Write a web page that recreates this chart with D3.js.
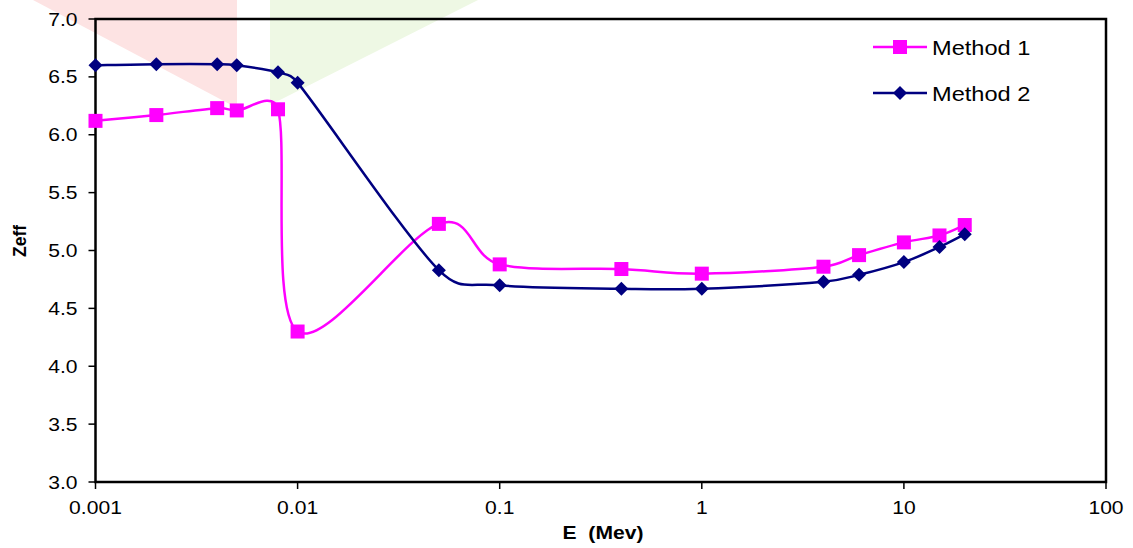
<!DOCTYPE html>
<html>
<head>
<meta charset="utf-8">
<script src="https://cdn.jsdelivr.net/npm/d3@7"></script>
<style>
  html, body { margin: 0; padding: 0; background: #fff; }
  svg { display: block; }
  text { font-family: "Liberation Sans", Arial, sans-serif; fill: #000; }
</style>
</head>
<body>
<svg id="chart" width="1133" height="548"></svg>
<script>
// ---- data ----
const energies = [0.001, 0.002, 0.004, 0.005, 0.008, 0.01, 0.05, 0.1, 0.4, 1, 4, 6, 10, 15, 20];
const method1 = [6.12, 6.17, 6.23, 6.21, 6.22, 4.30, 5.23, 4.88, 4.84, 4.80, 4.86, 4.96, 5.07, 5.13, 5.22];
const method2 = [6.60, 6.61, 6.61, 6.60, 6.54, 6.45, 4.83, 4.70, 4.67, 4.67, 4.73, 4.79, 4.90, 5.03, 5.14];
const xTicks = [0.001, 0.01, 0.1, 1, 10, 100];
const xTickLabels = ["0.001", "0.01", "0.1", "1", "10", "100"];
const yTicks = [3.0, 3.5, 4.0, 4.5, 5.0, 5.5, 6.0, 6.5, 7.0];
const seriesNames = ["Method 1", "Method 2"];

// ---- layout ----
const svg = d3.select("#chart");
const L = 95.5, R = 1106, T = 19, B = 482;
const x = d3.scaleLog().domain([0.001, 100]).range([L, R]);
const y = d3.scaleLinear().domain([3, 7]).range([B, T]);
const SX = 1.14; // horizontal stretch of text in reference

// faint background watermark shapes
svg.append("polygon").attr("points", "33,0 237,0 237,108").attr("fill", "#fde3e3");
svg.append("polygon").attr("points", "270,0 478,0 270,105").attr("fill", "#eef8e4");

// frame
svg.append("rect").attr("x", L).attr("y", T).attr("width", R - L).attr("height", B - T)
  .attr("fill", "none").attr("stroke", "#000").attr("stroke-width", 2.5);

// y ticks
const yg = svg.append("g");
yTicks.forEach(v => {
  yg.append("line").attr("x1", L - 7).attr("x2", L).attr("y1", y(v)).attr("y2", y(v))
    .attr("stroke", "#000").attr("stroke-width", 1.5);
  yg.append("text").attr("transform", `translate(${L - 18},${y(v) + 6.5}) scale(${SX},1)`)
    .attr("text-anchor", "end").attr("font-size", 18.5).text(v.toFixed(1));
});

// x ticks
const xg = svg.append("g");
xTicks.forEach((v, i) => {
  xg.append("line").attr("x1", x(v)).attr("x2", x(v)).attr("y1", B).attr("y2", B + 7)
    .attr("stroke", "#000").attr("stroke-width", 1.5);
  xg.append("text").attr("transform", `translate(${x(v)},${514}) scale(${SX},1)`)
    .attr("text-anchor", "middle").attr("font-size", 18.5).text(xTickLabels[i]);
});

// axis titles
svg.append("text").attr("transform", `translate(${603},${538.5}) scale(${SX},1)`)
  .attr("text-anchor", "middle").attr("font-size", 18.5).attr("font-weight", "bold")
  .attr("xml:space", "preserve").text("E  (Mev)");
svg.append("text").attr("transform", `translate(${26},${241}) rotate(-90)`)
  .attr("text-anchor", "middle").attr("font-size", 17.5).attr("font-weight", "bold").text("Zeff");

// Excel-style smoothed line (Catmull-Rom Bezier with control length clamping)
function smoothPath(pts) {
  const p = d3.path();
  const n = pts.length;
  const dist = (a, b) => Math.hypot(b[0] - a[0], b[1] - a[1]);
  p.moveTo(pts[0][0], pts[0][1]);
  for (let i = 0; i < n - 1; i++) {
    const p0 = pts[Math.max(0, i - 1)], p1 = pts[i], p2 = pts[i + 1], p3 = pts[Math.min(n - 1, i + 2)];
    const d12 = dist(p1, p2), d02 = dist(p0, p2), d13 = dist(p1, p3);
    let f1 = 1 / 6, f2 = 1 / 6;
    if (d02 / 6 > d12 / 2 && d02 > 0) f1 = d12 / (2 * d02);
    if (d13 / 6 > d12 / 2 && d13 > 0) f2 = d12 / (2 * d13);
    const c1 = [p1[0] + f1 * (p2[0] - p0[0]), p1[1] + f1 * (p2[1] - p0[1])];
    const c2 = [p2[0] - f2 * (p3[0] - p1[0]), p2[1] - f2 * (p3[1] - p1[1])];
    p.bezierCurveTo(c1[0], c1[1], c2[0], c2[1], p2[0], p2[1]);
  }
  return p.toString();
}

const colors = ["#ff00ff", "#000080"];
const data1 = energies.map((e, i) => [e, method1[i]]);
const data2 = energies.map((e, i) => [e, method2[i]]);
const toPx = d => [x(d[0]), y(d[1])];

svg.append("path").attr("d", smoothPath(data1.map(toPx))).attr("fill", "none")
  .attr("stroke", colors[0]).attr("stroke-width", 2.5);
svg.append("path").attr("d", smoothPath(data2.map(toPx))).attr("fill", "none")
  .attr("stroke", colors[1]).attr("stroke-width", 2.5);

const sq = 14, dm = 7;
svg.append("g").selectAll("rect").data(data1).join("rect")
  .attr("x", d => x(d[0]) - sq / 2).attr("y", d => y(d[1]) - sq / 2)
  .attr("width", sq).attr("height", sq).attr("fill", colors[0]);
svg.append("g").selectAll("path").data(data2).join("path")
  .attr("d", d => {
    const cx = x(d[0]), cy = y(d[1]);
    return `M${cx},${cy - dm}L${cx + dm},${cy}L${cx},${cy + dm}L${cx - dm},${cy}Z`;
  }).attr("fill", colors[1]);

// legend
const lg = svg.append("g");
const legY = [47, 93];
seriesNames.forEach((name, i) => {
  lg.append("line").attr("x1", 873).attr("x2", 927).attr("y1", legY[i]).attr("y2", legY[i])
    .attr("stroke", colors[i]).attr("stroke-width", 2.5);
  if (i === 0) {
    lg.append("rect").attr("x", 900 - sq / 2).attr("y", legY[i] - sq / 2)
      .attr("width", sq).attr("height", sq).attr("fill", colors[0]);
  } else {
    const cx = 900, cy = legY[i];
    lg.append("path").attr("d", `M${cx},${cy - dm}L${cx + dm},${cy}L${cx},${cy + dm}L${cx - dm},${cy}Z`)
      .attr("fill", colors[1]);
  }
  lg.append("text").attr("transform", `translate(${932},${legY[i] + 7.5}) scale(1.18,1)`)
    .attr("font-size", 20).text(name);
});
</script>
</body>
</html>
